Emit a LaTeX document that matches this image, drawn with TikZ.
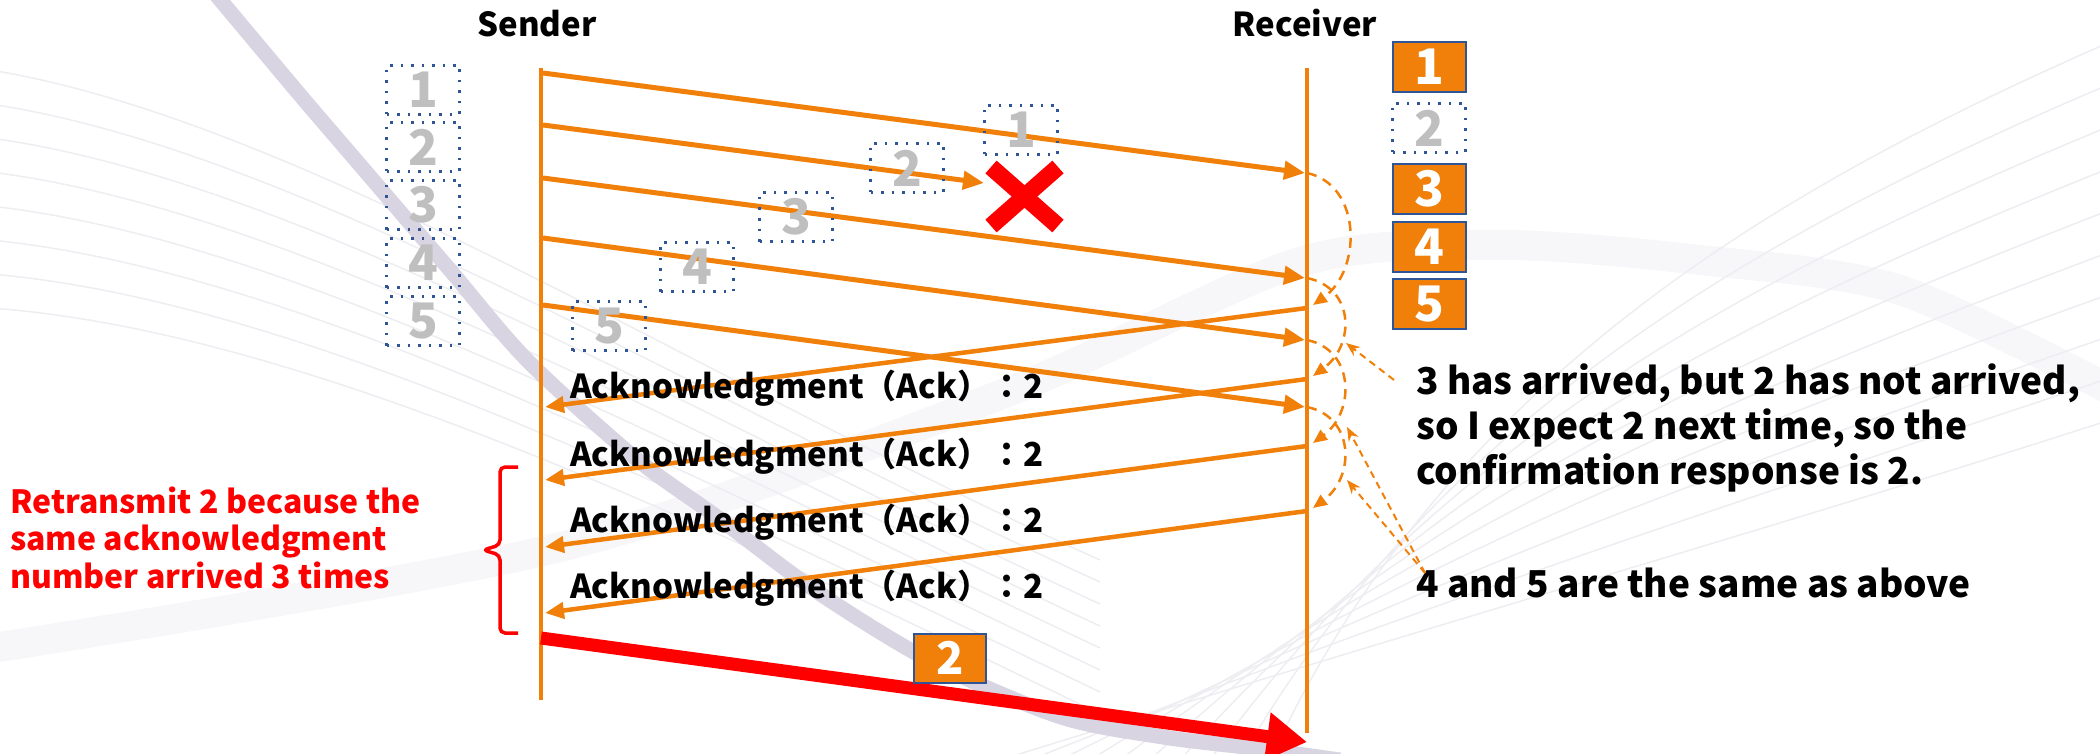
\documentclass[tikz,border=0pt]{standalone}
\usepackage{fontspec}
\setmainfont{Noto Sans CJK JP}
\usetikzlibrary{arrows.meta}

\definecolor{tcporange}{RGB}{240,128,10}
\definecolor{boxblue}{RGB}{47,85,151}
\definecolor{ghostgray}{RGB}{191,191,191}
\definecolor{swoosh}{RGB}{216,212,226}
\definecolor{haze}{RGB}{247,247,250}
\definecolor{faint}{RGB}{237,237,242}

\begin{document}
\begin{tikzpicture}[x=1pt,y=-1pt,
  lifeline/.style={draw=tcporange,line width=4pt},
  datamsg/.style={draw=tcporange,line width=5pt,-{Triangle[length=21pt,width=18pt]}},
  ackmsg/.style={draw=tcporange,line width=4.5pt,-{Triangle[length=19pt,width=16pt]}},
  loopback/.style={draw=tcporange,line width=2.5pt,dash pattern=on 10pt off 7pt,-{Triangle[length=14pt,width=12pt]}},
  pointer/.style={draw=tcporange,line width=2pt,dash pattern=on 7pt off 5pt,-{Stealth[length=14pt,width=11pt]}},
  retx/.style={draw=red,line width=13pt,-{Triangle[length=40pt,width=46pt]}},
  segfull/.style={draw=boxblue,line width=2pt,fill=tcporange,minimum width=73pt,minimum height=50pt,inner sep=0pt,text=white,font=\bfseries\fontsize{49}{49}\selectfont},
  segghost/.style={draw=boxblue,line width=2.5pt,dash pattern=on 2.5pt off 8pt,minimum width=73pt,minimum height=49pt,inner sep=0pt,text=ghostgray,font=\bfseries\fontsize{49}{49}\selectfont},
  role/.style={font=\bfseries\fontsize{33}{36}\selectfont,inner sep=0pt},
  acklbl/.style={font=\bfseries\fontsize{33}{36}\selectfont,inner sep=0pt},
  note/.style={font=\bfseries\fontsize{37}{45}\selectfont,inner sep=0pt,align=left},
  rednote/.style={font=\bfseries\fontsize{32}{37.5}\selectfont,inner sep=0pt,align=left,text=red},
  bgline/.style={draw=faint,line width=1.5pt}
]
\useasboundingbox (0,0) rectangle (2100,754);

% ---- background decoration ----
\draw[draw=haze,line width=30pt] plot[smooth] coordinates {(-20,650) (560,547) (1000,395) (1300,262) (1500,245) (1700,260) (1900,290) (2120,395)};
\foreach \i in {0,...,7}{
  \draw[bgline] (-10,{70+\i*34}) .. controls (300,{120+\i*30}) and (700,{380+\i*20}) .. (1100,{560+\i*22});
}
\foreach \i in {0,...,9}{
  \draw[bgline] ({1000+\i*30},760) .. controls (1450,{620-\i*28}) and (1800,{520-\i*38}) .. (2110,{420-\i*42});
}
\draw[draw=swoosh,line width=15pt] plot[smooth] coordinates {(212,-10) (300,95) (360,165) (450,270) (527,360) (634,457) (717,517) (819,593) (934,663) (1061,717) (1163,737) (1253,748) (1340,760)};

% ---- lifelines ----
\coordinate (sTop) at (541,68);
\coordinate (sBot) at (541,700);
\coordinate (rTop) at (1307,68);
\coordinate (rBot) at (1307,733);
\draw[lifeline] (sTop) -- (sBot);
\draw[lifeline] (rTop) -- (rBot);
\node[role,anchor=base] (sender) at (537,37) {Sender};
\node[role,anchor=base] (receiver) at (1305,37) {Receiver};

% ---- segments sent ----
\coordinate (d1s) at (543,73);   \coordinate (d1e) at (1305,173);
\coordinate (d2s) at (543,125);  \coordinate (d2e) at (984,183);
\coordinate (d3s) at (543,178);  \coordinate (d3e) at (1305,278);
\coordinate (d4s) at (543,238);  \coordinate (d4e) at (1305,340);
\coordinate (d5s) at (543,305);  \coordinate (d5e) at (1305,407);
\draw[datamsg] (d1s) -- (d1e);
\draw[datamsg] (d2s) -- (d2e);
\draw[datamsg] (d3s) -- (d3e);
\draw[datamsg] (d4s) -- (d4e);
\draw[datamsg] (d5s) -- (d5e);

% ---- acknowledgments ----
\coordinate (a1s) at (1307,308); \coordinate (a1e) at (545,407);
\coordinate (a2s) at (1307,379); \coordinate (a2e) at (545,480);
\coordinate (a3s) at (1307,446); \coordinate (a3e) at (545,547);
\coordinate (a4s) at (1307,511); \coordinate (a4e) at (545,613);
\draw[ackmsg] (a1s) -- (a1e);
\draw[ackmsg] (a2s) -- (a2e);
\draw[ackmsg] (a3s) -- (a3e);
\draw[ackmsg] (a4s) -- (a4e);

\node[acklbl,anchor=base west] (k1) at (570,398) {Acknowledgment（Ack）：2};
\node[acklbl,anchor=base west] (k2) at (570,466) {Acknowledgment（Ack）：2};
\node[acklbl,anchor=base west] (k3) at (570,532) {Acknowledgment（Ack）：2};
\node[acklbl,anchor=base west] (k4) at (570,598) {Acknowledgment（Ack）：2};

% ---- receiver turns each arrival into an ack ----
\coordinate (t1) at (1313,305);
\coordinate (t2) at (1313,376);
\coordinate (t3) at (1313,443);
\coordinate (t4) at (1313,508);
\draw[loopback] (1307,173) .. controls (1362,185) and (1362,270) .. (t1);
\draw[loopback] (1307,278) .. controls (1355,288) and (1355,345) .. (t2);
\draw[loopback] (1307,340) .. controls (1355,350) and (1355,412) .. (t3);
\draw[loopback] (1307,407) .. controls (1355,417) and (1355,477) .. (t4);

% ---- lost segment ----
\draw[red,line width=17pt] (991,167) -- (1058,226);
\draw[red,line width=17pt] (1058,167) -- (991,226);

% ---- retransmission ----
\coordinate (rs) at (541,638);
\coordinate (re) at (1307,742);
\draw[retx] (rs) -- (re);
\node[segfull,minimum width=72pt,minimum height=49pt,font=\bfseries\fontsize{45}{45}\selectfont] (seg2b) at (950,658) {2};

% ---- send buffer ----
\node[segghost] (q1) at (423,90) {1};
\node[segghost] (q2) at (423,147) {2};
\node[segghost] (q3) at (423,205) {3};
\node[segghost] (q4) at (423,263) {4};
\node[segghost] (q5) at (423,321) {5};

% ---- segments in flight ----
\node[segghost] (f1) at (1021,130) {1};
\node[segghost] (f2) at (907,168) {2};
\node[segghost] (f3) at (796,217) {3};
\node[segghost] (f4) at (697,267) {4};
\node[segghost] (f5) at (609,326) {5};

% ---- receive buffer ----
\node[segfull] (b1) at (1429,67) {1};
\node[segghost] (b2) at (1429,128) {2};
\node[segfull] (b3) at (1429,189) {3};
\node[segfull] (b4) at (1429,247) {4};
\node[segfull] (b5) at (1429,304) {5};

% ---- brace and explanation ----
\draw[red,line width=3.5pt,rounded corners=5pt] (518,467) -- (500,467) -- (500,545) -- (483,550) -- (500,555) -- (500,633) -- (518,633);
\node[rednote,anchor=base west] (why) at (10,588) {Retransmit 2 because the\\same acknowledgment\\number arrived 3 times};

% ---- receiver notes ----
\node[note,anchor=base west] (expl) at (1416,484) {3 has arrived, but 2 has not arrived,\\so I expect 2 next time, so the\\confirmation response is 2.};
\node[note,anchor=base west] (same) at (1416,597) {4 and 5 are the same as above};
\coordinate (p1) at (1346,343);
\coordinate (p2) at (1347,427);
\coordinate (p3) at (1347,480);
\coordinate (o1) at (1394,380);
\coordinate (o2) at (1425,573);
\draw[pointer] (o1) -- (p1);
\draw[pointer] (o2) -- (p2);
\draw[pointer] (o2) -- (p3);
\end{tikzpicture}
\end{document}
